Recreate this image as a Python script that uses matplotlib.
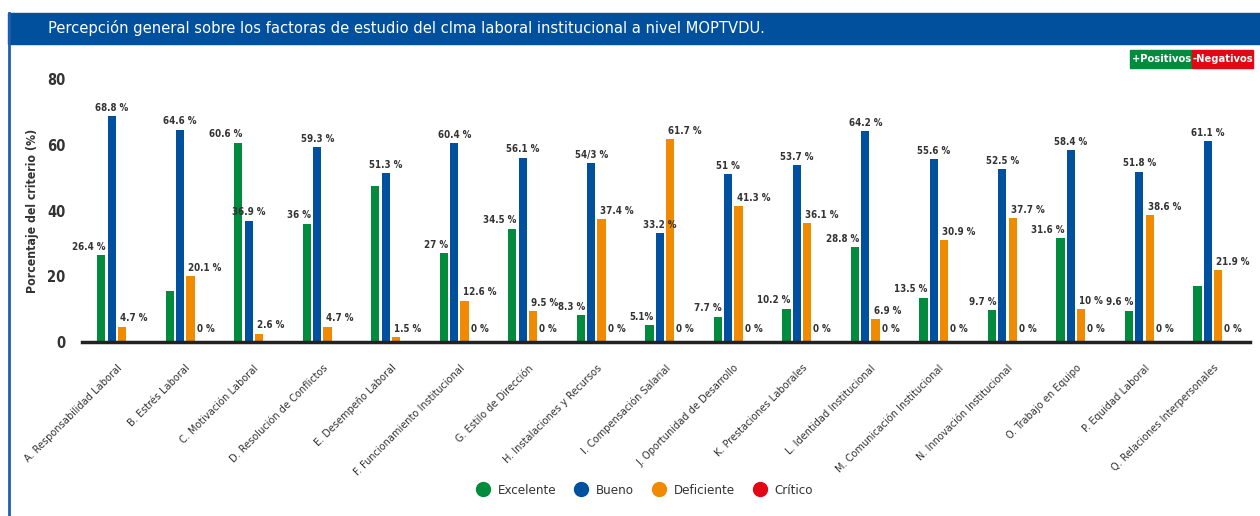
#barras agrupadas - clima laboral institucional MOPTVDU

import matplotlib.pyplot as plt
from matplotlib.lines import Line2D
import numpy as np

plt.rcParams['font.family'] = ['DejaVu Sans']
plt.rcParams['font.stretch'] = 'condensed'

factores = ['A. Responsabilidad Laboral', 'B. Estrés Laboral', 'C. Motivación Laboral',
            'D. Resolución de Conflictos', 'E. Desempeño Laboral', 'F. Funcionamiento Institucional',
            'G. Estilo de Dirección', 'H. Instalaciones y Recursos', 'I. Compensación Salarial',
            'J. Oportunidad de Desarrollo', 'K. Prestaciones Laborales', 'L. Identidad Institucional',
            'M. Comunicación Institucional', 'N. Innovación Institucional', 'O. Trabajo en Equipo',
            'P. Equidad Laboral', 'Q. Relaciones Interpersonales']

excelente = [26.4, 15.5, 60.6, 36.0, 47.4, 27.0, 34.5, 8.3, 5.1, 7.7, 10.2, 28.8, 13.5, 9.7, 31.6, 9.6, 17.0]
bueno = [68.8, 64.6, 36.9, 59.3, 51.3, 60.4, 56.1, 54.3, 33.2, 51.0, 53.7, 64.2, 55.6, 52.5, 58.4, 51.8, 61.1]
deficiente = [4.7, 20.1, 2.6, 4.7, 1.5, 12.6, 9.5, 37.4, 61.7, 41.3, 36.1, 6.9, 30.9, 37.7, 10.0, 38.6, 21.9]
critico = [0] * 17

etq_excelente = ['26.4 %', '', '60.6 %', '36 %', '', '27 %', '34.5 %', '8.3 %', '5.1%', '7.7 %',
                 '10.2 %', '28.8 %', '13.5 %', '9.7 %', '31.6 %', '9.6 %', '']
etq_bueno = ['68.8 %', '64.6 %', '36.9 %', '59.3 %', '51.3 %', '60.4 %', '56.1 %', '54/3 %', '33.2 %',
             '51 %', '53.7 %', '64.2 %', '55.6 %', '52.5 %', '58.4 %', '51.8 %', '61.1 %']
etq_deficiente = ['4.7 %', '20.1 %', '2.6 %', '4.7 %', '1.5 %', '12.6 %', '9.5 %', '37.4 %', '61.7 %',
                  '41.3 %', '36.1 %', '6.9 %', '30.9 %', '37.7 %', '10 %', '38.6 %', '21.9 %']
etq_critico = ['', '0 %', '', '', '', '0 %', '0 %', '0 %', '0 %', '0 %', '0 %', '0 %', '0 %', '0 %',
               '0 %', '0 %', '0 %']

verde = '#008C3C'
azul = '#0050A0'
naranja = '#F08A00'
rojo = '#E30613'
texto = '#333333'

fig = plt.figure(figsize=(12.6, 5.16), dpi=100)

# barra de titulo y borde izquierdo
fig.patches.append(plt.Rectangle((0.0065, 0.915), 0.9935, 0.06, transform=fig.transFigure,
                                 color='#00509E', zorder=0))
fig.add_artist(Line2D([0.0075, 0.0075], [0.0, 0.975], transform=fig.transFigure, color='#1F5FAF', lw=2))
fig.text(0.038, 0.946, 'Percepción general sobre los factoras de estudio del clma laboral institucional a nivel MOPTVDU.',
         color='white', fontsize=11.8, va='center', ha='left')

# cajas positivos / negativos
fig.patches.append(plt.Rectangle((0.8968, 0.868), 0.0495, 0.035, transform=fig.transFigure, color=verde))
fig.patches.append(plt.Rectangle((0.9463, 0.868), 0.0481, 0.035, transform=fig.transFigure, color=rojo))
fig.text(0.9216, 0.8855, '+Positivos', color='white', fontsize=8, fontweight='bold', ha='center', va='center')
fig.text(0.9704, 0.8855, '-Negativos', color='white', fontsize=8, fontweight='bold', ha='center', va='center')

ax = fig.add_axes([0.065, 0.337, 0.927, 0.51])

x = np.arange(len(factores))
paso = 0.15
ancho = 0.118

series = [(excelente, verde, etq_excelente), (bueno, azul, etq_bueno),
          (deficiente, naranja, etq_deficiente), (critico, rojo, etq_critico)]

fs = 7
for i, (vals, col, etqs) in enumerate(series):
    pos = x + (i - 1.5) * paso
    ax.bar(pos, vals, width=ancho, color=col, zorder=2)
    for p, v, t in zip(pos, vals, etqs):
        if not t:
            continue
        if i == 0:
            ax.text(p + ancho / 2, v + 1, t, ha='right', va='bottom', fontsize=fs,
                    fontweight='bold', color=texto)
        elif i == 1:
            ax.text(p, v + 1, t, ha='center', va='bottom', fontsize=fs, fontweight='bold', color=texto)
        elif i == 2:
            ax.text(p - ancho / 2 + 0.03, v + 1, t, ha='left', va='bottom', fontsize=fs,
                    fontweight='bold', color=texto)
        else:
            ax.text(p - ancho / 2, 4, t, ha='left', va='center', fontsize=fs, fontweight='bold', color=texto)

ax.set_xlim(-0.51, 16.54)
ax.set_ylim(0, 80)
ax.set_yticks([0, 20, 40, 60, 80])
ax.tick_params(axis='y', length=0, labelsize=10.5, labelcolor=texto, pad=12)
for lb in ax.get_yticklabels():
    lb.set_fontweight('bold')
ax.set_ylabel('Porcentaje del criterio (%)', fontsize=8.8, fontweight='bold', color=texto, labelpad=6)

ax.set_xticks(x)
ax.set_xticklabels(factores, rotation=45, ha='right', rotation_mode='anchor', fontsize=7.8, color=texto)
ax.tick_params(axis='x', length=0, pad=15)

for s in ['top', 'right', 'left']:
    ax.spines[s].set_visible(False)
ax.spines['bottom'].set_linewidth(2.5)
ax.spines['bottom'].set_color('#222222')

# leyenda inferior
manejadores = [Line2D([0], [0], marker='o', ls='', markersize=10, color=c) for c in [verde, azul, naranja, rojo]]
fig.legend(manejadores, ['Excelente', 'Bueno', 'Deficiente', 'Crítico'], loc='center',
           bbox_to_anchor=(0.509, 0.05), ncol=4, frameon=False, fontsize=9.5, handletextpad=0.1,
           columnspacing=0.9, labelcolor=texto)

fig.savefig('out.png', dpi=100)
